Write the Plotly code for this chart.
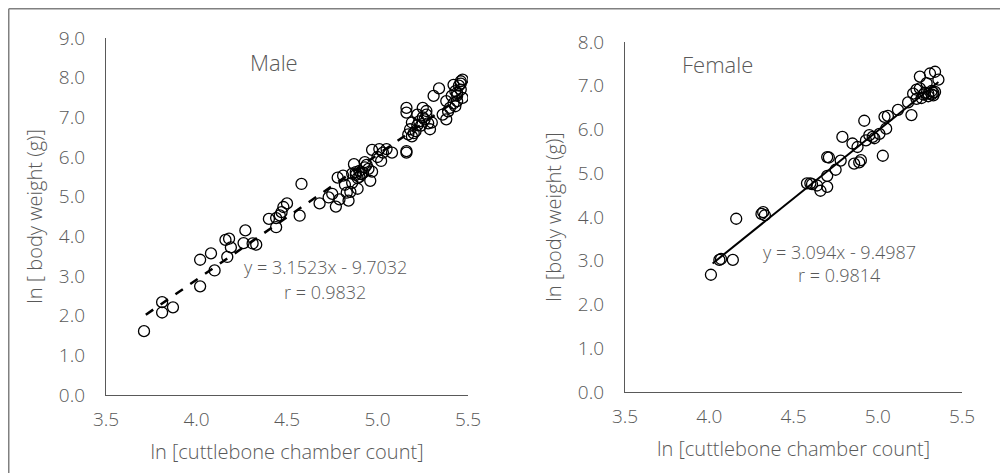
import plotly.graph_objects as go

# Male: ln chamber count vs ln body weight
male_x = [3.71, 3.81, 3.81, 3.87, 4.02, 4.02, 4.08, 4.10, 4.17, 4.16, 4.18, 4.19,
          4.27, 4.26, 4.33, 4.31, 4.40, 4.44, 4.44, 4.47, 4.50, 4.48, 4.46, 4.57,
          4.58, 4.68, 4.73, 4.77, 4.75, 4.79, 4.84, 4.85, 4.83, 4.78, 4.81, 4.86,
          4.87, 4.89, 4.90, 4.91, 4.93, 4.96, 4.93, 4.97, 4.97, 5.00, 5.02, 5.01,
          5.05, 5.08, 5.03, 5.16, 5.16, 5.16, 5.16, 5.17, 5.18, 5.19, 5.19, 5.22,
          5.25, 5.26, 5.24, 5.27, 5.29, 5.30, 5.27, 5.31, 5.34, 5.38, 5.36, 5.38,
          5.40, 5.41, 5.43, 5.44, 5.42, 5.46, 5.47, 5.46, 5.47, 5.43, 5.44,
          4.88, 4.90, 4.92, 4.95, 4.86, 4.89, 5.21, 5.23, 5.25, 5.20, 5.22, 5.28,
          5.45, 5.42, 5.44, 5.46, 5.39, 4.82, 4.88, 4.94]
male_y = [1.61, 2.34, 2.08, 2.21, 2.74, 3.41, 3.57, 3.14, 3.48, 3.91, 3.94, 3.72,
          4.15, 3.83, 3.79, 3.82, 4.44, 4.23, 4.46, 4.61, 4.83, 4.74, 4.53, 4.52,
          5.32, 4.83, 4.98, 4.75, 5.07, 4.93, 4.90, 5.12, 5.10, 5.48, 5.53, 5.58,
          5.82, 5.47, 5.65, 5.57, 5.74, 5.40, 5.87, 5.63, 6.18, 6.00, 5.90, 6.20,
          6.20, 6.11, 6.11, 6.11, 6.15, 7.24, 7.12, 6.57, 6.70, 6.52, 6.87, 7.07,
          7.24, 6.95, 6.79, 7.07, 6.70, 6.87, 7.16, 7.54, 7.73, 6.95, 7.07, 7.41,
          7.24, 7.54, 7.66, 7.41, 7.82, 7.91, 7.95, 7.70, 7.49, 7.28, 7.62,
          5.55, 5.50, 5.60, 5.70, 5.35, 5.20, 6.65, 6.90, 7.00, 6.60, 6.80, 6.85,
          7.80, 7.35, 7.55, 7.85, 7.15, 5.30, 5.62, 5.80]

# Female
female_x = [4.01, 4.06, 4.07, 4.14, 4.16, 4.31, 4.32, 4.33, 4.58, 4.60, 4.61, 4.66,
            4.70, 4.70, 4.71, 4.70, 4.75, 4.78, 4.79, 4.85, 4.86, 4.89, 4.90, 4.92,
            4.88, 4.93, 4.95, 4.97, 5.01, 5.03, 5.04, 5.05, 5.06, 5.12, 5.18, 5.20,
            5.21, 5.23, 5.25, 5.25, 5.26, 5.27, 5.28, 5.30, 5.32, 5.33, 5.31, 5.34,
            5.36, 5.29, 5.23, 5.32, 5.33, 5.30, 5.34, 4.64, 4.98]
female_y = [2.68, 3.02, 3.04, 3.02, 3.96, 4.07, 4.11, 4.04, 4.77, 4.77, 4.75, 4.60,
            4.69, 4.94, 5.36, 5.37, 5.08, 5.29, 5.83, 5.68, 5.22, 5.25, 5.30, 6.20,
            5.60, 5.75, 5.87, 5.83, 5.90, 5.40, 6.29, 6.02, 6.31, 6.45, 6.62, 6.33,
            6.82, 6.70, 7.21, 6.94, 6.72, 6.80, 6.84, 6.82, 6.80, 6.84, 7.28, 7.32,
            7.14, 7.06, 6.91, 6.88, 6.78, 6.76, 6.86, 4.72, 5.80]

male_fit = (3.1523, -9.7032)
female_fit = (3.094, -9.4987)
male_fit_x = [3.72, 5.47]
female_fit_x = [4.02, 5.36]

grey = "#595959"
tick_font = dict(family="Open Sans", size=19, color=grey, weight=300)
label_font = dict(family="Open Sans", size=20, color=grey, weight=300)
eq_font = dict(family="Open Sans", size=18, color=grey, weight=300)
title_font = dict(family="Open Sans", size=22, color=grey, weight=300)

fig = go.Figure()
marker = dict(symbol="circle-open", size=11, color="black", line=dict(width=1.3, color="black"))
fig.add_trace(go.Scatter(x=male_x, y=male_y, mode="markers", marker=marker,
                         xaxis="x", yaxis="y", showlegend=False))
fig.add_trace(go.Scatter(x=male_fit_x, y=[male_fit[0] * v + male_fit[1] for v in male_fit_x],
                         mode="lines", line=dict(color="black", width=2.5, dash="dash"),
                         xaxis="x", yaxis="y", showlegend=False))
fig.add_trace(go.Scatter(x=female_x, y=female_y, mode="markers", marker=marker,
                         xaxis="x2", yaxis="y2", showlegend=False))
fig.add_trace(go.Scatter(x=female_fit_x, y=[female_fit[0] * v + female_fit[1] for v in female_fit_x],
                         mode="lines", line=dict(color="black", width=2),
                         xaxis="x2", yaxis="y2", showlegend=False))

def xax(domain, anchor):
    return dict(domain=domain, anchor=anchor, range=[3.5, 5.5], dtick=0.5, tickformat=".1f",
                showgrid=False, zeroline=False, showline=True, linecolor="#595959", linewidth=1.3,
                ticks="outside", ticklen=7, tickcolor="rgba(0,0,0,0)", tickfont=tick_font,
                automargin=False,
                title=dict(text="ln [cuttlebone chamber count]", font=label_font, standoff=14))

def yax(domain, anchor, top, title):
    return dict(domain=domain, anchor=anchor, range=[0, top], dtick=1, tickformat=".1f",
                showgrid=False, zeroline=False, showline=True, linecolor="#595959", linewidth=1.3,
                ticks="outside", ticklen=16, tickcolor="rgba(0,0,0,0)", tickfont=tick_font,
                automargin=False,
                title=dict(text=title, font=label_font, standoff=10))

W, H = 1008, 473

fig.update_layout(
    width=W, height=H,
    margin=dict(l=0, r=0, t=0, b=0),
    plot_bgcolor="white", paper_bgcolor="white",
    xaxis=xax([98 / W, 460 / W], "y"),
    yaxis=yax([1 - 387 / H, 1 - 30 / H], "x", 9, "ln [ body weight (g)]"),
    xaxis2=xax([617 / W, 954 / W], "y2"),
    yaxis2=yax([1 - 384 / H, 1 - 34 / H], "x2", 8, "ln [body weight (g)]"),
    annotations=[
        dict(text="Male", x=240 / W, y=1 - 37 / H, xref="paper", yref="paper", showarrow=False,
             font=title_font),
        dict(text="Female", x=747 / W, y=1 - 39 / H, xref="paper", yref="paper", showarrow=False,
             font=title_font),
        dict(text="y = 3.1523x - 9.7032", x=4.71, y=3.22, xref="x", yref="y",
             showarrow=False, font=eq_font),
        dict(text="r = 0.9832", x=4.71, y=2.59, xref="x", yref="y",
             showarrow=False, font=eq_font),
        dict(text="y = 3.094x - 9.4987", x=4.774, y=3.21, xref="x2", yref="y2",
             showarrow=False, font=eq_font),
        dict(text="r = 0.9814", x=4.774, y=2.67, xref="x2", yref="y2",
             showarrow=False, font=eq_font),
    ],
    shapes=[
        dict(type="line", xref="paper", yref="paper", x0=0.75 / W, x1=0.75 / W, y0=0, y1=1 - 0.75 / H,
             line=dict(color="#808080", width=1.5)),
        dict(type="line", xref="paper", yref="paper", x0=0.75 / W, x1=1, y0=1 - 0.75 / H, y1=1 - 0.75 / H,
             line=dict(color="#808080", width=1.5)),
    ],
)

fig.write_html("out.html")
